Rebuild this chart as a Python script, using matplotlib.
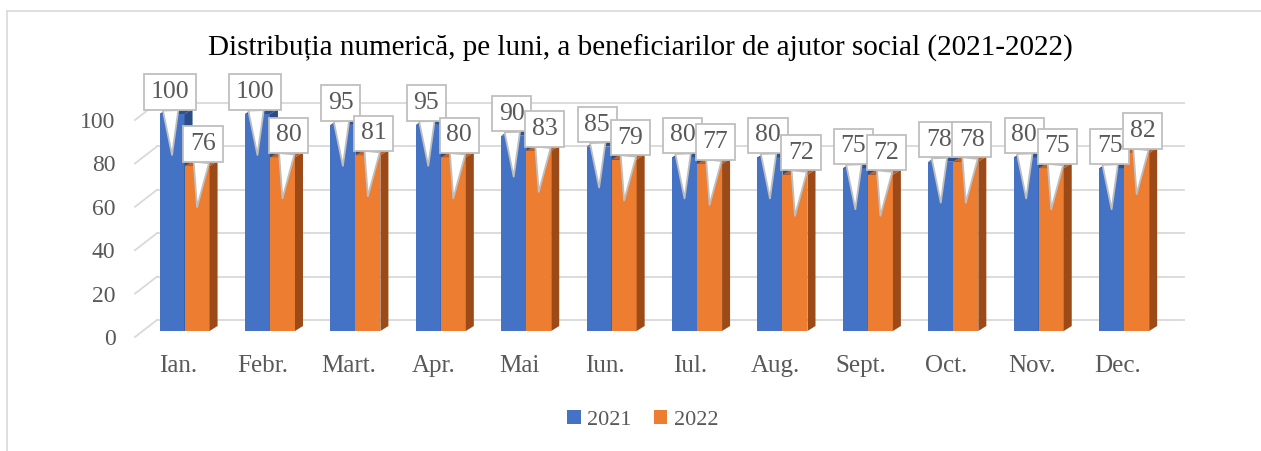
import numpy as np
import matplotlib
matplotlib.use("Agg")
import matplotlib.pyplot as plt
from matplotlib.patches import Polygon, Patch
from matplotlib.lines import Line2D
from matplotlib.transforms import ScaledTranslation

months = ["Ian.", "Febr.", "Mart.", "Apr.", "Mai", "Iun.", "Iul.", "Aug.",
          "Sept.", "Oct.", "Nov.", "Dec."]
y2021 = [100, 100, 95, 95, 90, 85, 80, 80, 75, 78, 80, 75]
y2022 = [76, 80, 81, 80, 83, 79, 77, 72, 72, 78, 75, 82]
yticks = [0, 20, 40, 60, 80, 100]

BLUE, BLUE_TOP, BLUE_SIDE = "#4472C4", "#2F528F", "#2B4C86"
ORANGE, ORANGE_TOP, ORANGE_SIDE = "#ED7D31", "#C4621F", "#9C4A17"
TXT = "#595959"
GRID = "#D9D9D9"
BOX_EC = "#BFBFBF"

plt.rcParams["font.family"] = ["Liberation Serif", "DejaVu Serif"]

W, H, DPI = 1261, 451, 100
fig = plt.figure(figsize=(W / DPI, H / DPI), dpi=DPI)

# front plane of the fake 3d plot, in pixels
L, R, B, T = 135, 1160, 331, 114
ax = fig.add_axes([L / W, (H - B) / H, (R - L) / W, (B - T) / H])
ax.set_xlim(-0.5, 11.5)
ax.set_ylim(0, 100)
ax.patch.set_visible(False)
for s in ax.spines.values():
    s.set_visible(False)

ux = (R - L) / 12.0   # px per category
uy = (B - T) / 100.0  # px per unit

# back wall gridlines + floor diagonals
lab_dy = -6 / uy           # tick labels sit a bit below the bar plane
gdx, gdy = 22 / ux, 11 / uy
for v in yticks:
    ax.plot([-0.5 + gdx, 11.78], [v + gdy, v + gdy], color=GRID, lw=1.3,
            zorder=0, clip_on=False)
    ax.plot([-0.5, -0.5 + gdx], [v + lab_dy, v + gdy], color=GRID, lw=1.3,
            zorder=0, clip_on=False)

x = np.arange(len(months))
bw = 0.293
off = 0.08
ddx, ddy = 8 / ux, 5 / uy


def bar3d(x0, v, front, top, side, z):
    x1 = x0 + bw
    ax.add_patch(Polygon([(x0, 0), (x1, 0), (x1, v), (x0, v)],
                         fc=front, ec="none", zorder=z, clip_on=False))
    ax.add_patch(Polygon([(x0, v), (x1, v), (x1 + ddx, v + ddy), (x0 + ddx, v + ddy)],
                         fc=top, ec="none", zorder=z, clip_on=False))
    ax.add_patch(Polygon([(x1, 0), (x1 + ddx, ddy), (x1 + ddx, v + ddy), (x1, v)],
                         fc=side, ec="none", zorder=z, clip_on=False))


def callout(xc, v, shift):
    ax.annotate(f"{v}", xy=(xc, v - 41 / uy), xytext=(shift * 72 / DPI, 63 * 72 / DPI),
                textcoords="offset points", ha="center", va="center",
                fontsize=18.5, color=TXT, zorder=5, annotation_clip=False,
                bbox=dict(boxstyle="square,pad=0.26", fc="white", ec=BOX_EC, lw=1.3),
                arrowprops=dict(arrowstyle="wedge,tail_width=0.6,shrink_factor=0.5",
                                fc="white", ec=BOX_EC, lw=1.3,
                                shrinkA=0, shrinkB=0))


for i in x:
    bar3d(i + off - bw, y2021[i], BLUE, BLUE_TOP, BLUE_SIDE, 2)
    bar3d(i + off, y2022[i], ORANGE, ORANGE_TOP, ORANGE_SIDE, 3)

for i in x:
    callout(i + off - bw / 2, y2021[i], -2)
    callout(i + off + bw / 2, y2022[i], 6)

ax.set_xticks(x)
ax.set_xticklabels(months)
ax.set_yticks(yticks)
ax.tick_params(axis="x", length=0, pad=17, labelsize=18, labelcolor=TXT)
ax.tick_params(axis="y", length=0, pad=14, labelsize=17, labelcolor=TXT)
for lab in ax.get_yticklabels():
    lab.set_transform(lab.get_transform() +
                      ScaledTranslation(0, -6 / DPI, fig.dpi_scale_trans))

fig.text(640 / W, 1 - 48 / H,
         "Distribuția numerică, pe luni, a beneficiarilor de ajutor social (2021-2022)",
         ha="center", va="center", fontsize=21, color="black")

fig.legend(handles=[Patch(fc=BLUE), Patch(fc=ORANGE)], labels=["2021", "2022"],
           loc="center", bbox_to_anchor=(643 / W, 1 - 420 / H), ncol=2,
           frameon=False, fontsize=16, labelcolor=TXT, handlelength=0.6,
           handleheight=0.6, handletextpad=0.3, columnspacing=1.0)

# outer chart border (top and left)
fig.add_artist(Line2D([7 / W, 1], [1 - 11 / H, 1 - 11 / H], color=GRID, lw=1.2))
fig.add_artist(Line2D([7 / W, 7 / W], [0, 1 - 11 / H], color=GRID, lw=1.2))

fig.savefig("out.png", dpi=DPI)
